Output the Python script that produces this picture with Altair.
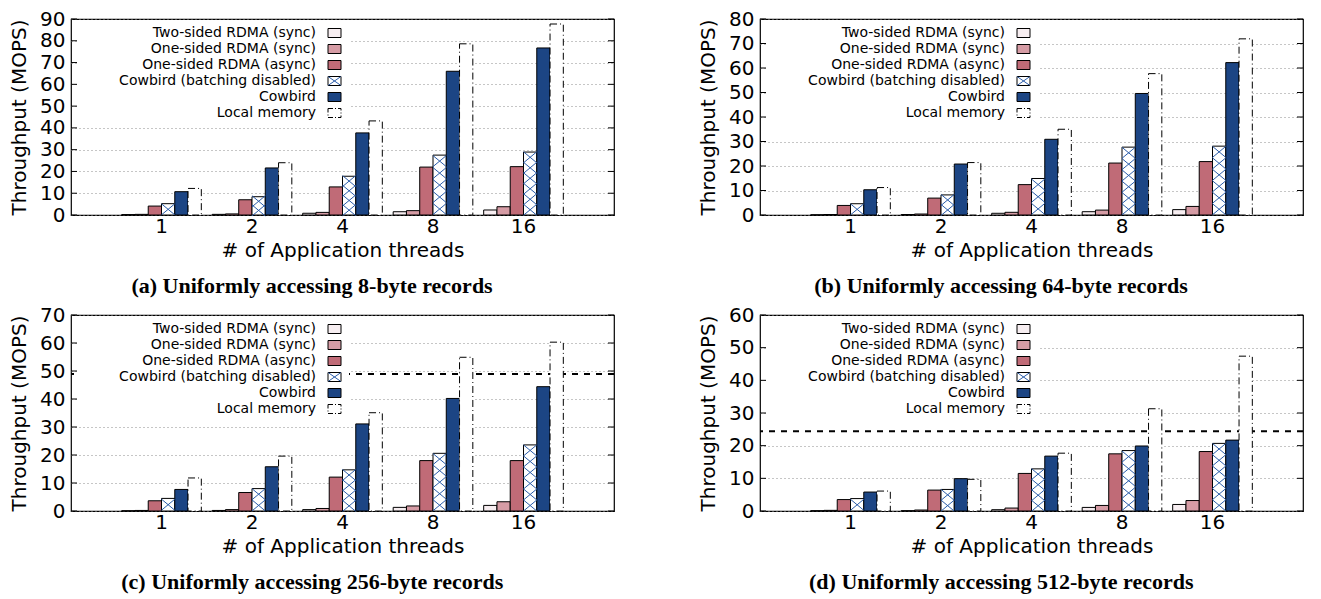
import altair as alt
import pandas as pd

threads = ["1", "2", "4", "8", "16"]
series = [
    "Two-sided RDMA (sync)",
    "One-sided RDMA (sync)",
    "One-sided RDMA (async)",
    "Cowbird (batching disabled)",
    "Cowbird",
    "Local memory",
]
colors = ["#f7eef1", "#d69ca5", "#c06b77", "#ffffff", "#1c4584", "#ffffff"]
hatch_color = "#2a5caa"

# (a) 8-byte records
a_two = [0.2, 0.3, 0.8, 1.5, 2.3]
a_sync = [0.3, 0.5, 1.2, 2.0, 3.8]
a_async = [4.1, 7.0, 12.9, 22.0, 22.2]
a_bd = [5.2, 8.4, 17.8, 27.5, 28.9]
a_cow = [10.7, 21.6, 37.7, 66.0, 76.7]
a_local = [12.2, 24.0, 43.2, 78.6, 87.7]

# (b) 64-byte records
b_two = [0.1, 0.2, 0.7, 1.35, 2.2]
b_sync = [0.2, 0.4, 1.1, 2.0, 3.5]
b_async = [3.9, 6.9, 12.4, 21.2, 21.8]
b_bd = [4.6, 8.2, 14.9, 27.7, 28.1]
b_cow = [10.3, 20.8, 30.9, 49.6, 62.2]
b_local = [11.2, 21.4, 35.0, 57.7, 71.9]

# (c) 256-byte records
c_two = [0.1, 0.2, 0.5, 1.3, 2.0]
c_sync = [0.2, 0.5, 0.9, 1.8, 3.3]
c_async = [3.65, 6.6, 12.1, 18.0, 18.0]
c_bd = [4.5, 8.0, 14.7, 20.6, 23.6]
c_cow = [7.7, 15.8, 31.1, 40.2, 44.4]
c_local = [11.8, 19.6, 35.1, 54.9, 60.3]
c_limit = 48.9

# (d) 512-byte records
d_two = [0.1, 0.1, 0.4, 1.1, 2.0]
d_sync = [0.2, 0.3, 0.9, 1.7, 3.2]
d_async = [3.5, 6.4, 11.5, 17.5, 18.2]
d_bd = [3.8, 6.6, 12.9, 18.5, 20.7]
d_cow = [5.8, 9.9, 16.8, 19.9, 21.7]
d_local = [6.1, 9.7, 17.7, 31.3, 47.4]
d_limit = 24.4

W, H = 543, 196
FONT = "DejaVu Sans"
XPATH = "M-1,-0.83L1,0.83M1,-0.83L-1,0.83"


def panel(vals, ymax, caption, limit=None):
    rows = []
    for s, v in zip(series, vals):
        for t, y in zip(threads, v):
            rows.append({"threads": t, "series": s, "value": y})
    df = pd.DataFrame(rows)

    yscale = alt.Scale(domain=[0, ymax], nice=False, zero=True)
    xaxis = alt.Axis(
        title="# of Application threads", labelAngle=0, ticks=False, domain=False,
        labelPadding=1, titlePadding=4, labelFontSize=20, titleFontSize=20,
        labelFont=FONT, titleFont=FONT, titleFontWeight="normal",
        labelColor="black", titleColor="black", grid=False,
    )
    xenc = alt.X("threads:N", sort=threads,
                 scale=alt.Scale(domain=threads, paddingInner=0.12, paddingOuter=0.56),
                 axis=xaxis)
    xoff = alt.XOffset("series:N", sort=series,
                       scale=alt.Scale(domain=series, paddingInner=0, paddingOuter=0))
    yaxis = alt.Axis(
        values=list(range(0, ymax + 1, 10)), title="Throughput (MOPS)",
        grid=True, gridDash=[1, 3], gridColor="#8c8c8c", gridWidth=1,
        ticks=False, domain=False, labelPadding=6, titlePadding=10,
        labelFontSize=20, titleFontSize=20, labelFont=FONT, titleFont=FONT,
        titleFontWeight="normal", labelColor="black", titleColor="black",
    )

    def py_to_val(p):
        return ymax * (H - p) / H

    layers = []

    main = (
        alt.Chart(df[df["series"] != series[5]])
        .mark_bar(stroke="black", strokeWidth=1)
        .encode(
            x=xenc, xOffset=xoff,
            y=alt.Y("value:Q", scale=yscale, axis=yaxis),
            fill=alt.Fill("series:N", scale=alt.Scale(domain=series, range=colors), legend=None),
        )
    )

    if limit is not None:
        lim = (
            alt.Chart(pd.DataFrame({"value": [limit]}))
            .mark_rule(color="black", strokeWidth=2, strokeDash=[6, 6])
            .encode(y=alt.Y("value:Q", scale=yscale, axis=yaxis))
        )
        layers.append(lim)
    layers.append(main)

    local = (
        alt.Chart(df[df["series"] == series[5]])
        .mark_bar(stroke="black", strokeWidth=1, fill="white", strokeDash=[7, 3, 1, 3])
        .encode(x=xenc, xOffset=xoff, y=alt.Y("value:Q", scale=yscale, axis=yaxis))
    )
    layers.append(local)

    # hatch crosses inside the "batching disabled" bars, derived from the values
    hrows = []
    bd = vals[3]
    for t, v in zip(threads, bd):
        px = v * H / ymax
        n = int(round(px / 11.0))
        if n < 1 and px >= 5:
            n = 1
        for k in range(n):
            hrows.append({"threads": t, "series": series[3], "value": (k + 0.5) * v / n})
    hatch = (
        alt.Chart(pd.DataFrame(hrows))
        .mark_point(shape=XPATH, size=177, filled=False, stroke=hatch_color,
                    strokeWidth=1, opacity=1)
        .encode(x=xenc, xOffset=xoff, y=alt.Y("value:Q", scale=yscale, axis=yaxis))
    )
    layers.append(hatch)

    tdf = pd.DataFrame({"value": list(range(0, ymax + 1, 10))})
    tick_l = (
        alt.Chart(tdf).mark_rule(color="black", strokeWidth=1)
        .encode(y=alt.Y("value:Q", scale=yscale, axis=yaxis), x=alt.value(0), x2=alt.value(6))
    )
    tick_r = (
        alt.Chart(tdf).mark_rule(color="black", strokeWidth=1)
        .encode(y=alt.Y("value:Q", scale=yscale, axis=yaxis), x=alt.value(W - 6), x2=alt.value(W))
    )
    layers += [tick_l, tick_r]

    box = (
        alt.Chart(pd.DataFrame({"a": [0]}))
        .mark_rect(fill="white", strokeWidth=0)
        .encode(x=alt.value(6), x2=alt.value(278), y=alt.value(1), y2=alt.value(104))
    )
    layers.append(box)

    pys = [14 + 16 * i for i in range(len(series))]
    ldf = pd.DataFrame({
        "series": series,
        "fill": colors,
        "value": [py_to_val(p) for p in pys],
        "y1": [py_to_val(p - 4.5) for p in pys],
        "y2": [py_to_val(p + 4.5) for p in pys],
    })

    ltext = (
        alt.Chart(ldf)
        .mark_text(align="right", baseline="middle", fontSize=14, font=FONT, color="black")
        .encode(x=alt.value(245), y=alt.Y("value:Q", scale=yscale, axis=yaxis), text="series:N")
    )
    lsw = (
        alt.Chart(ldf[ldf["series"] != series[5]])
        .mark_rect(stroke="black", strokeWidth=1)
        .encode(x=alt.value(257), x2=alt.value(270),
                y=alt.Y("y1:Q", scale=yscale, axis=yaxis), y2="y2:Q",
                fill=alt.Fill("fill:N", scale=None))
    )
    lsw_local = (
        alt.Chart(ldf[ldf["series"] == series[5]])
        .mark_rect(stroke="black", strokeWidth=1, fill="white", strokeDash=[5, 2, 1, 2])
        .encode(x=alt.value(257), x2=alt.value(270),
                y=alt.Y("y1:Q", scale=yscale, axis=yaxis), y2="y2:Q")
    )
    lsw_hatch = (
        alt.Chart(ldf[ldf["series"] == series[3]])
        .mark_point(shape="M-1,-0.7L1,0.7M1,-0.7L-1,0.7", size=150, filled=False,
                    stroke=hatch_color, strokeWidth=1, opacity=1)
        .encode(x=alt.value(263.5), y=alt.Y("value:Q", scale=yscale, axis=yaxis))
    )
    layers += [ltext, lsw, lsw_local, lsw_hatch]

    return alt.layer(*layers).properties(
        width=W, height=H,
        title=alt.TitleParams(
            text=caption, orient="bottom", anchor="middle", frame="bounds",
            font="Liberation Serif", fontSize=22, fontWeight="bold",
            color="black", offset=16,
        ),
    )


pa = panel([a_two, a_sync, a_async, a_bd, a_cow, a_local], 90,
           "(a) Uniformly accessing 8-byte records")
pb = panel([b_two, b_sync, b_async, b_bd, b_cow, b_local], 80,
           "(b) Uniformly accessing 64-byte records")
pc = panel([c_two, c_sync, c_async, c_bd, c_cow, c_local], 70,
           "(c) Uniformly accessing 256-byte records", c_limit)
pd_ = panel([d_two, d_sync, d_async, d_bd, d_cow, d_local], 60,
            "(d) Uniformly accessing 512-byte records", d_limit)

chart = (
    alt.vconcat(
        alt.hconcat(pa, pb, spacing=81),
        alt.hconcat(pc, pd_, spacing=81),
        spacing=6,
    )
    .properties(padding={"top": 0, "left": 0, "right": 0, "bottom": 0})
    .configure_view(stroke="black", strokeWidth=1.2)
)

chart.save("out.html", embed_options={"renderer": "svg", "actions": False})
